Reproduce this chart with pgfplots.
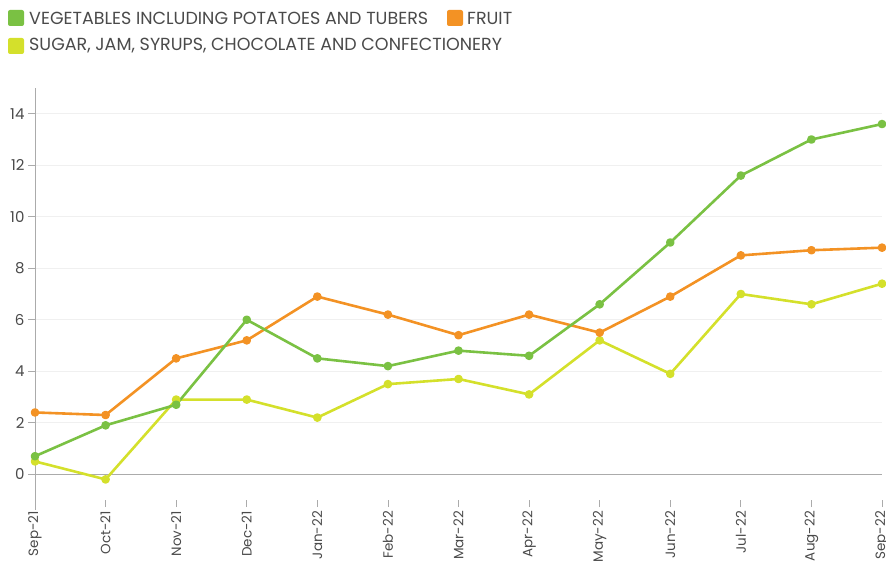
\documentclass[border=0pt]{standalone}
\usepackage{pgfplots}
\pgfplotsset{compat=1.18}
\usepackage{fontspec}
\setmainfont{Poppins}
\definecolor{veg}{HTML}{7AC143}
\definecolor{fruit}{HTML}{F39224}
\definecolor{sugar}{HTML}{D4E02B}
\definecolor{txt}{HTML}{4A4A4A}
\definecolor{axgray}{HTML}{ABABAB}
\definecolor{gridc}{HTML}{F0F0F0}
\begin{document}
\begin{tikzpicture}[x=1pt,y=1pt]
\useasboundingbox (0,0) rectangle (886,563);
\begin{axis}[
  at={(35pt,63pt)}, anchor=south west,
  width=847pt, height=412pt, scale only axis,
  xmin=0, xmax=12, ymin=-1, ymax=15,
  clip=false,
  axis y line*=left, axis x line*=bottom,
  x axis line style={draw=none},
  y axis line style={draw=axgray, line width=1pt, shorten <=-10pt},
  ytick={0,2,...,14},
  xtick={0,...,12},
  xticklabels={Sep-21,Oct-21,Nov-21,Dec-21,Jan-22,Feb-22,Mar-22,Apr-22,May-22,Jun-22,Jul-22,Aug-22,Sep-22},
  xticklabel style={rotate=90, anchor=east, font=\fontsize{13.5}{15}\selectfont, text=txt, xshift=0pt, yshift=0pt, inner xsep=4pt},
  yticklabel style={font=\fontsize{15}{17}\selectfont, text=txt},
  /pgf/number format/assume math mode=true,
  tick align=outside,
  major tick length=7pt,
  tick style={draw=axgray, line width=0.8pt},
  ymajorgrids, grid style={draw=gridc, line width=1pt},
  extra y ticks={0}, extra y tick labels={},
  extra y tick style={grid style={draw=axgray, line width=1.2pt}, major tick length=0pt},
  every axis plot/.append style={line width=2.6pt, mark=*, mark size=3pt, line join=round},
]
\addplot[color=sugar, mark options={fill=sugar, draw=sugar}] coordinates {
(0,0.5) (1,-0.2) (2,2.9) (3,2.9) (4,2.2) (5,3.5) (6,3.7) (7,3.1) (8,5.2) (9,3.9) (10,7.0) (11,6.6) (12,7.4)};
\addplot[color=fruit, mark options={fill=fruit, draw=fruit}] coordinates {
(0,2.4) (1,2.3) (2,4.5) (3,5.2) (4,6.9) (5,6.2) (6,5.4) (7,6.2) (8,5.5) (9,6.9) (10,8.5) (11,8.7) (12,8.8)};
\addplot[color=veg, mark options={fill=veg, draw=veg}] coordinates {
(0,0.7) (1,1.9) (2,2.7) (3,6.0) (4,4.5) (5,4.2) (6,4.8) (7,4.6) (8,6.6) (9,9.0) (10,11.6) (11,13.0) (12,13.6)};
\end{axis}
\fill[veg, rounded corners=2pt] (8,537) rectangle (24,553);
\node[anchor=west, inner sep=0pt, text=txt, font=\fontsize{17.5}{20}\selectfont] at (29,545) {VEGETABLES INCLUDING POTATOES AND TUBERS};
\fill[fruit, rounded corners=2pt] (447,537) rectangle (463,553);
\node[anchor=west, inner sep=0pt, text=txt, font=\fontsize{17.5}{20}\selectfont] at (467,545) {FRUIT};
\fill[sugar, rounded corners=2pt] (8,509) rectangle (24,525);
\node[anchor=west, inner sep=0pt, text=txt, font=\fontsize{17.5}{20}\selectfont] at (29,517) {SUGAR, JAM, SYRUPS, CHOCOLATE AND CONFECTIONERY};
\end{tikzpicture}
\end{document}
